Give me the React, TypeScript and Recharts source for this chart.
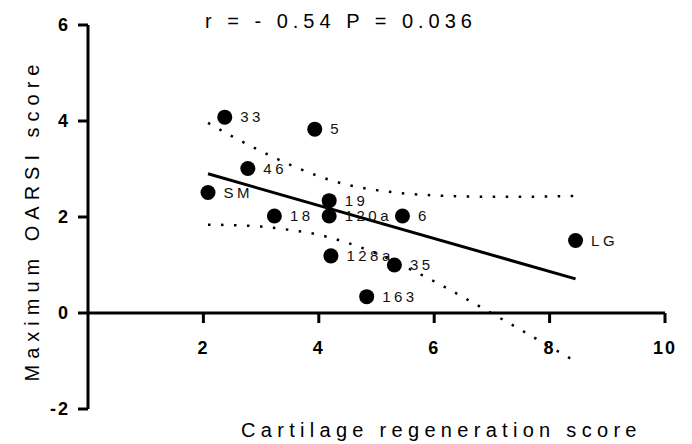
import React from 'react';
import { ComposedChart, Scatter, Line, XAxis, YAxis, ZAxis, ReferenceLine, LabelList } from 'recharts';

const ids = ['33', '5', '46', 'SM', '19', '18', '120a', '6', 'LG', '128a', '35', '163'];
const regen = [2.37, 3.93, 2.77, 2.08, 4.18, 3.23, 4.18, 5.45, 8.45, 4.21, 5.31, 4.83];
const oarsi = [4.08, 3.83, 3.01, 2.51, 2.34, 2.02, 2.02, 2.02, 1.51, 1.19, 1.0, 0.34];

const fitX = [2.08, 8.45];
const fitY = [2.9, 0.71];

const bandX = [2.08, 2.5, 3, 3.5, 4, 4.5, 5, 5.5, 6, 6.5, 7, 7.5, 8, 8.45];
const bandUpper = [3.96, 3.68, 3.37, 3.09, 2.85, 2.67, 2.56, 2.49, 2.45, 2.43, 2.42, 2.42, 2.43, 2.44];
const bandLower = [1.84, 1.83, 1.8, 1.73, 1.63, 1.46, 1.24, 0.96, 0.66, 0.33, -0.01, -0.35, -0.7, -1.01];

const xTicks = [2, 4, 6, 8, 10];
const yTicks = [-2, 0, 2, 4, 6];

const titleText = 'r = - 0.54 P = 0.036';
const xTitle = 'Cartilage regeneration score';
const yTitle = 'Maximum OARSI score';

const FONT = 'Arial, "Liberation Sans", sans-serif';

const points = ids.map((id, i) => ({ id, x: regen[i], y: oarsi[i] }));
const fitData = fitX.map((x, i) => ({ x, y: fitY[i] }));
const upperData = bandX.map((x, i) => ({ x, y: bandUpper[i] }));
const lowerData = bandX.map((x, i) => ({ x, y: bandLower[i] }));

const W = 684;
const H = 436;

export default function App() {
  return (
    <div style={{ position: 'relative', width: W, height: H }}>
      <ComposedChart
        width={W}
        height={H}
        margin={{ top: 17, right: 27, bottom: 35, left: 40 }}
      >
        <XAxis dataKey="x" type="number" domain={[0, 10]} hide allowDataOverflow />
        <YAxis
          dataKey="y"
          type="number"
          domain={[-2, 6]}
          ticks={yTicks}
          width={40}
          interval={0}
          axisLine={{ stroke: '#000', strokeWidth: 3 }}
          tickLine={{ stroke: '#000', strokeWidth: 3 }}
          tickSize={10}
          tickMargin={8}
          tick={{ fill: '#000', fontSize: 18, fontWeight: 'bold', fontFamily: FONT, letterSpacing: 2 }}
        />
        <ZAxis type="number" range={[177, 177]} />
        <ReferenceLine y={0} stroke="#000" strokeWidth={3} ifOverflow="visible" />
        {xTicks.map((t) => (
          <ReferenceLine
            key={t}
            segment={[{ x: t, y: 0 }, { x: t, y: -0.2083 }]}
            stroke="#000"
            strokeWidth={3}
            ifOverflow="visible"
            label={{
              value: String(t),
              position: 'bottom',
              offset: 18,
              fill: '#000',
              fontSize: 18,
              fontWeight: 'bold',
              fontFamily: FONT,
              letterSpacing: 2,
            }}
          />
        ))}
        <Scatter data={points} fill="none" shape={() => null} isAnimationActive={false}>
          <LabelList
            dataKey="id"
            position="right"
            offset={8}
            fill="#111"
            fontSize={15}
            fontFamily={FONT}
            letterSpacing={3.5}
          />
        </Scatter>
        <Line
          data={upperData}
          dataKey="y"
          type="monotone"
          stroke="#000"
          strokeWidth={2.5}
          strokeDasharray="2.5 10.5"
          dot={false}
          activeDot={false}
          isAnimationActive={false}
        />
        <Line
          data={lowerData}
          dataKey="y"
          type="monotone"
          stroke="#000"
          strokeWidth={2.5}
          strokeDasharray="2.5 10.5"
          dot={false}
          activeDot={false}
          isAnimationActive={false}
        />
        <Line
          data={fitData}
          dataKey="y"
          type="linear"
          stroke="#000"
          strokeWidth={3}
          dot={false}
          activeDot={false}
          isAnimationActive={false}
        />
        <Scatter data={points} fill="#000" shape="circle" isAnimationActive={false} />
      </ComposedChart>
      <svg
        width={W}
        height={H}
        style={{ position: 'absolute', left: 0, top: 0, pointerEvents: 'none' }}
      >
        <text x={197} y={20} fontSize={20} fontFamily={FONT} letterSpacing={5} fill="#000">
          {titleText}
        </text>
        <text x={233} y={429} fontSize={20} fontFamily={FONT} letterSpacing={5.3} fill="#000">
          {xTitle}
        </text>
        <text
          x={31}
          y={212}
          fontSize={20}
          fontFamily={FONT}
          letterSpacing={6}
          fill="#000"
          textAnchor="middle"
          transform="rotate(-90, 31, 212)"
        >
          {yTitle}
        </text>
      </svg>
    </div>
  );
}
